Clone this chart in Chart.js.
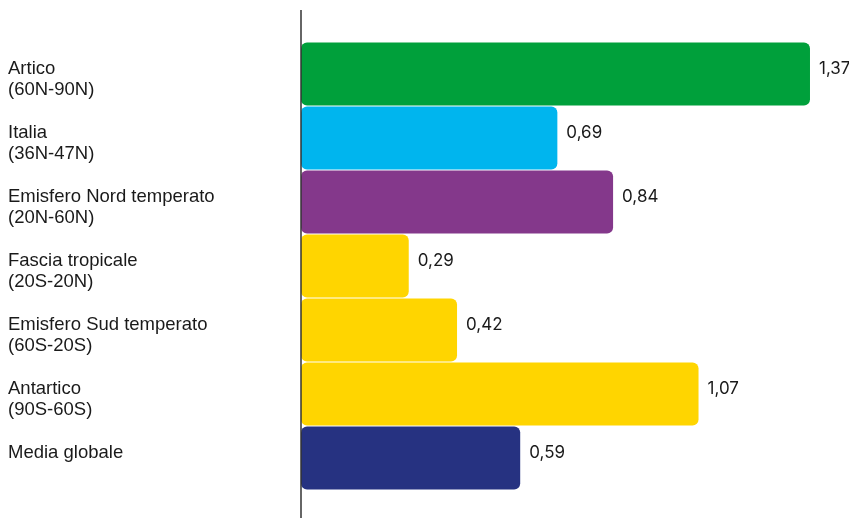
<!DOCTYPE html>
<html lang="it">
<head>
<meta charset="utf-8">
<title>Aumento temperatura per zona</title>
<script src="https://cdn.jsdelivr.net/npm/chart.js@4/dist/chart.umd.min.js"></script>
<style>
  html, body { margin: 0; padding: 0; background: #fff; }
  #wrap { width: 849px; height: 518px; }
</style>
</head>
<body>
<div id="wrap"><canvas id="myChart" width="849" height="518"></canvas></div>
<script>
// zone e valori
var zone = [
  ["Artico", "(60N-90N)"],
  ["Italia", "(36N-47N)"],
  ["Emisfero Nord temperato", "(20N-60N)"],
  ["Fascia tropicale", "(20S-20N)"],
  ["Emisfero Sud temperato", "(60S-20S)"],
  ["Antartico", "(90S-60S)"],
  ["Media globale"]
];
var valori = [1.37, 0.69, 0.84, 0.29, 0.42, 1.07, 0.59];
var colori = ["#00a03b", "#00b5ee", "#84388b", "#ffd500", "#ffd500", "#ffd500", "#263281"];

var fontZone = '18.5px "Liberation Sans", Arial, sans-serif';
var fontValori = '17px Inter, "Liberation Sans", Arial, sans-serif';

// etichette a sinistra, valori a fine barra e asse verticale
var etichette = {
  id: "etichette",
  afterDatasetsDraw: function (chart) {
    var ctx = chart.ctx;
    var yScale = chart.scales.y;
    var xScale = chart.scales.x;
    ctx.save();
    ctx.fillStyle = "#1a1a1a";
    ctx.textBaseline = "alphabetic";
    ctx.textAlign = "left";
    zone.forEach(function (righe, i) {
      var y = yScale.getPixelForValue(i);
      ctx.font = fontZone;
      righe.forEach(function (r, k) {
        ctx.fillText(r, 8, y + k * 21);
      });
      var x = xScale.getPixelForValue(valori[i]);
      ctx.font = fontValori;
      ctx.fillText(valori[i].toFixed(2).replace(".", ","), x + 9, y);
    });
    // linea dell'asse
    ctx.strokeStyle = "#333";
    ctx.lineWidth = 1.5;
    ctx.beginPath();
    ctx.moveTo(chart.chartArea.left, 10);
    ctx.lineTo(chart.chartArea.left, chart.height);
    ctx.stroke();
    ctx.restore();
  }
};

new Chart("myChart", {
  type: "bar",
  data: {
    labels: zone,
    datasets: [{
      data: valori,
      backgroundColor: colori,
      borderRadius: 6,
      borderSkipped: false,
      barPercentage: 0.985,
      categoryPercentage: 1
    }]
  },
  options: {
    indexAxis: "y",
    responsive: false,
    animation: false,
    layout: { padding: { left: 301, right: 0, top: 42, bottom: 28 } },
    scales: {
      x: { display: false, min: 0, max: 1.475 },
      y: { display: false }
    },
    plugins: {
      legend: { display: false },
      tooltip: { enabled: false }
    }
  },
  plugins: [etichette]
});
</script>
</body>
</html>
